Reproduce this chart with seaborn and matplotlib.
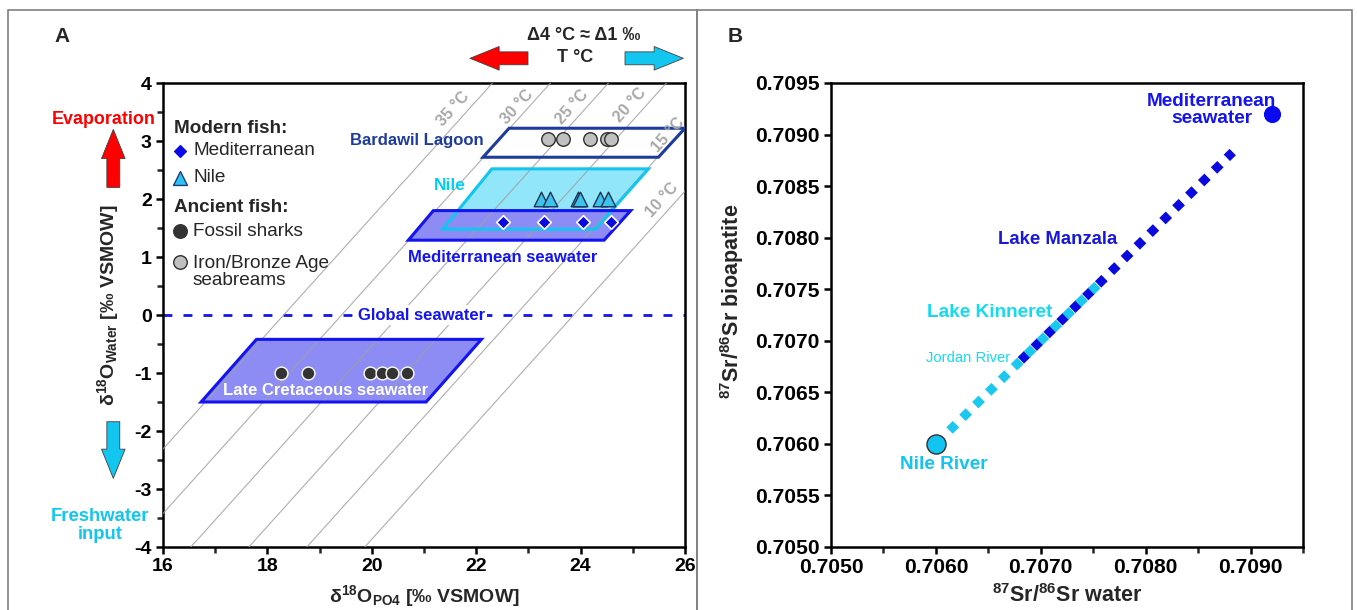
import numpy as np
import pandas as pd
import matplotlib
matplotlib.use("Agg")
import matplotlib.pyplot as plt
import seaborn as sns
from matplotlib.patches import Polygon, Rectangle, FancyArrowPatch
from matplotlib.ticker import MultipleLocator, FormatStrFormatter

# ---- panel A data ----
# isotherms from the phosphate-water fractionation (Lecuyer et al. 2013)
iso_temps = [35, 30, 25, 20, 15, 10]
iso_a, iso_b = 117.4, 4.50
iso_label_x = [21.56, 22.78, 23.83, 24.95, 25.68, 25.56]
iso_label_y = [3.56, 3.59, 3.59, 3.62, 3.10, 1.98]

bardawil_box_x = [22.13, 22.63, 26.00, 25.49]
bardawil_box_y = [2.72, 3.22, 3.22, 2.72]
nile_box_x = [21.36, 22.30, 25.30, 24.28]
nile_box_y = [1.48, 2.52, 2.52, 1.48]
med_box_x = [20.70, 21.18, 24.96, 24.45]
med_box_y = [1.29, 1.80, 1.80, 1.29]
cret_box_x = [16.73, 17.79, 22.10, 21.04]
cret_box_y = [-1.50, -0.42, -0.42, -1.50]

bardawil_po4 = [23.38, 23.67, 24.18, 24.50, 24.59]
bardawil_w = [3.03, 3.03, 3.03, 3.03, 3.03]
nile_po4 = [23.25, 23.41, 23.95, 23.99, 24.37, 24.53]
nile_w = [2.0, 2.0, 2.0, 2.0, 2.0, 2.0]
med_po4 = [22.51, 23.30, 24.04, 24.58]
med_w = [1.61, 1.61, 1.61, 1.61]
shark_po4 = [18.26, 18.78, 19.97, 20.19, 20.38, 20.67]
shark_w = [-1.0, -1.0, -1.0, -1.0, -1.0, -1.0]
global_sw = 0.0

# ---- panel B data ----
med_sw_sr = [0.7092]
nile_river_sr = [0.7060]
manzala_line = [0.70681, 0.70883]
kinneret_line = [0.70613, 0.70754]

RED = "#ff0000"
CYAN = "#12c6f0"
BLUE = "#1414f0"
DBLUE = "#1e3c9c"
GREY = "#a8a8a8"

sns.set_theme(style="ticks")
plt.rcParams["font.family"] = ["Liberation Sans", "DejaVu Sans"]
plt.rcParams["mathtext.fontset"] = "custom"
plt.rcParams["mathtext.rm"] = "Liberation Sans:bold"
plt.rcParams["mathtext.it"] = "Liberation Sans:bold"
plt.rcParams["mathtext.bf"] = "Liberation Sans:bold"
plt.rcParams["mathtext.default"] = "rm"
plt.rcParams["axes.unicode_minus"] = False

fig = plt.figure(figsize=(13.57, 6.10), dpi=100)
axA = fig.add_axes([163 / 1357, 63 / 610, 522 / 1357, 464 / 610])
axB = fig.add_axes([831 / 1357, 63 / 610, 472 / 1357, 464 / 610])

# panel frames
fig.add_artist(Rectangle((8 / 1357, -0.02), 689 / 1357, 1.0036, transform=fig.transFigure,
                         fill=False, ec="#808080", lw=1.2))
fig.add_artist(Rectangle((697 / 1357, -0.02), 655 / 1357, 1.0036, transform=fig.transFigure,
                         fill=False, ec="#808080", lw=1.2))

# ================= Panel A =================
ax = axA


def box(xv, yv, fc, ec, z):
    pts = np.column_stack([xv, yv])
    if fc is not None:
        ax.add_patch(Polygon(pts, closed=True, fc=fc, ec="none", zorder=z))
    if ec is not None:
        ax.add_patch(Polygon(pts, closed=True, fill=False, ec=ec, lw=2.2, zorder=z + 1.5))


box(bardawil_box_x, bardawil_box_y, "white", DBLUE, 3.0)
box(nile_box_x, nile_box_y, "#92e6fa", CYAN, 3.1)
box(med_box_x, med_box_y, "#8c8cf4", BLUE, 3.2)
box(cret_box_x, cret_box_y, "#8c8cf4", BLUE, 3.0)

xs = np.array([15.0, 27.0])
for T in iso_temps:
    ax.plot(xs, xs - (iso_a - T) / iso_b, color="#a0a0a0", lw=0.8, alpha=0.85, zorder=3.4)
for T, lx, ly in zip(iso_temps, iso_label_x, iso_label_y):
    ax.text(lx, ly, f"{T} °C", rotation=48, color=GREY, fontsize=11.5, fontweight="bold",
            ha="center", va="center", zorder=5)

ax.axhline(global_sw, color=BLUE, lw=2, dashes=(3.2, 4.0), zorder=2)

df_bar = pd.DataFrame({"po4": bardawil_po4, "w": bardawil_w})
df_nile = pd.DataFrame({"po4": nile_po4, "w": nile_w})
df_med = pd.DataFrame({"po4": med_po4, "w": med_w})
df_shark = pd.DataFrame({"po4": shark_po4, "w": shark_w})
sns.scatterplot(data=df_bar, x="po4", y="w", ax=ax, marker="o", s=95, color="#c0c0c0",
                edgecolor="#303030", linewidth=1.0, zorder=6)
sns.scatterplot(data=df_nile, x="po4", y="w", ax=ax, marker="^", s=110, color="#3cc4ee",
                edgecolor="#203050", linewidth=1.0, zorder=6)
sns.scatterplot(data=df_med, x="po4", y="w", ax=ax, marker="D", s=48, color="#0a0ae0",
                edgecolor="white", linewidth=1.2, zorder=6)
sns.scatterplot(data=df_shark, x="po4", y="w", ax=ax, marker="o", s=85, color="#333333",
                edgecolor="white", linewidth=1.0, zorder=6)

ax.text(20.87, 3.0, "Bardawil Lagoon", color=DBLUE, fontsize=12, fontweight="bold",
        ha="center", va="center", zorder=7)
ax.text(21.5, 2.24, "Nile", color="#00d0f4", fontsize=12.5, fontweight="bold",
        ha="center", va="center", zorder=7)
ax.text(22.51, 1.0, "Mediterranean seawater", color=BLUE, fontsize=12, fontweight="bold",
        ha="center", va="center", zorder=7)
ax.text(19.12, -1.30, "Late Cretaceous seawater", color="white", fontsize=12,
        fontweight="bold", ha="center", va="center", zorder=7)
ax.text(20.95, 0.0, "Global seawater", color=BLUE, fontsize=12, fontweight="bold",
        ha="center", va="center", zorder=7,
        bbox=dict(boxstyle="square,pad=0.15", fc="white", ec="none"))

# legend (manual)
ax.text(0.021, 0.9024, "Modern fish:", transform=ax.transAxes, fontsize=13.6,
        fontweight="bold", va="center", ha="left", zorder=8)
ax.text(0.021, 0.7321, "Ancient fish:", transform=ax.transAxes, fontsize=13.6,
        fontweight="bold", va="center", ha="left", zorder=8)
leg_items = [("D", "#0a0ae6", "#0a0ae6", 36, 0.8541, "Mediterranean"),
             ("^", "#2cc4f0", "#203a80", 100, 0.7959, "Nile"),
             ("o", "#333333", "#333333", 95, 0.6810, "Fossil sharks"),
             ("o", "#c0c0c0", "#303030", 95, 0.6149, "Iron/Bronze Age\nseabreams")]
for mk, fc, ec, s, yy, lab in leg_items:
    ax.scatter([0.0326], [yy], transform=ax.transAxes, marker=mk, s=s, c=fc,
               edgecolors=ec, linewidths=1.0, zorder=8, clip_on=False)
    ax.text(0.0575, yy + (0.0 if "\n" not in lab else -0.0215), lab, transform=ax.transAxes,
            fontsize=13.7, va="center", ha="left", zorder=8, linespacing=1.0)

ax.set_xlim(16, 26)
ax.set_ylim(-4, 4)
ax.xaxis.set_major_locator(MultipleLocator(2))
ax.xaxis.set_minor_locator(MultipleLocator(1))
ax.yaxis.set_major_locator(MultipleLocator(1))
ax.yaxis.set_minor_locator(MultipleLocator(0.5))
ax.set_xlabel(r"δ$^{18}$O$_{PO4}$ [‰ VSMOW]", fontsize=14, fontweight="bold", labelpad=6)
ax.set_ylabel(r"δ$^{18}$O$_{Water}$ [‰ VSMOW]", fontsize=14, fontweight="bold")
ax.yaxis.set_label_coords(-0.081, 0.52)

# side annotations
ax.text(-0.1144, 0.9209, "Evaporation", transform=ax.transAxes, color=RED, fontsize=12.9,
        fontweight="bold", ha="center", va="center")
ax.text(-0.1207, 0.047, "Freshwater\ninput", transform=ax.transAxes, color=CYAN,
        fontsize=13.3, fontweight="bold", ha="center", va="center", linespacing=1.05)
arrow_style = "simple,head_length=21,head_width=17,tail_width=9.3"
for p0, p1, col in [((-0.0952, 0.775), (-0.0952, 0.900), RED),
                    ((-0.0952, 0.270), (-0.0952, 0.148), CYAN),
                    ((0.6992, 1.0532), (0.5881, 1.0532), RED),
                    ((0.8851, 1.0532), (0.9968, 1.0532), CYAN)]:
    ax.add_artist(FancyArrowPatch(p0, p1, transform=ax.transAxes, arrowstyle=arrow_style,
                                  mutation_scale=1, shrinkA=0, shrinkB=0, fc=col,
                                  ec="#404040", lw=0.6, clip_on=False))
ax.text(0.8065, 1.1034, "Δ4 °C ≈ Δ1 ‰", transform=ax.transAxes, fontsize=13,
        fontweight="bold", ha="center", va="center")
ax.text(0.7893, 1.0560, "T °C", transform=ax.transAxes, fontsize=13,
        fontweight="bold", ha="center", va="center")

# ================= Panel B =================
ax = axB
ax.plot(kinneret_line, kinneret_line, color="#1cc8f0", lw=6.5, linestyle=(0, (1, 1)),
        dash_capstyle="butt", zorder=3)
ax.plot(manzala_line, manzala_line, color="#0a0ae0", lw=6.5, linestyle=(0, (1, 1)),
        dash_capstyle="butt", zorder=2)
sns.scatterplot(x=med_sw_sr, y=med_sw_sr, ax=ax, s=130, color="#0a0af0", edgecolor="#0a0af0",
                zorder=5)
sns.scatterplot(x=nile_river_sr, y=nile_river_sr, ax=ax, s=190, color="#12c4f2",
                edgecolor="#303030", linewidth=1.0, zorder=5)

ax.text(0.70863, 0.70924, "Mediterranean\nseawater", color=BLUE, fontsize=13.7,
        fontweight="bold", ha="center", va="center", linespacing=1.0)
ax.text(0.70716, 0.70798, "Lake Manzala", color="#1818d8", fontsize=13.4,
        fontweight="bold", ha="center", va="center")
ax.text(0.70651, 0.70727, "Lake Kinneret", color="#14dcf0", fontsize=13.7,
        fontweight="bold", ha="center", va="center")
ax.text(0.70631, 0.70683, "Jordan River", color="#14dcf0", fontsize=10.6,
        ha="center", va="center")
ax.text(0.70608, 0.70580, "Nile River", color="#12c4f2", fontsize=13.7,
        fontweight="bold", ha="center", va="center")

ax.set_xlim(0.7050, 0.7095)
ax.set_ylim(0.7050, 0.7095)
ax.xaxis.set_major_locator(MultipleLocator(0.001))
ax.xaxis.set_minor_locator(MultipleLocator(0.0005))
ax.yaxis.set_major_locator(MultipleLocator(0.0005))
ax.xaxis.set_major_formatter(FormatStrFormatter("%.4f"))
ax.yaxis.set_major_formatter(FormatStrFormatter("%.4f"))
ax.set_xlabel(r"$^{87}$Sr/$^{86}$Sr water", fontsize=15.5, fontweight="bold", labelpad=5)
ax.set_ylabel(r"$^{87}$Sr/$^{86}$Sr bioapatite", fontsize=15.5, fontweight="bold")
ax.yaxis.set_label_coords(-0.18, 0.53)

for a, tsize in ((axA, 14), (axB, 15.2)):
    for sp in a.spines.values():
        sp.set_linewidth(1.8)
        sp.set_color("black")
    a.tick_params(which="major", direction="out", length=5, width=1.8, labelsize=tsize,
                  colors="black", pad=3)
    a.tick_params(which="minor", direction="out", length=4, width=1.8)
    for lab in a.get_xticklabels() + a.get_yticklabels():
        lab.set_fontweight("bold")
    a.grid(False)

fig.text(62 / 1357, 1 - 36 / 610, "A", fontsize=15, fontweight="bold", ha="center", va="center")
fig.text(735 / 1357, 1 - 36 / 610, "B", fontsize=15, fontweight="bold", ha="center", va="center")

fig.savefig("out.png", dpi=100)
